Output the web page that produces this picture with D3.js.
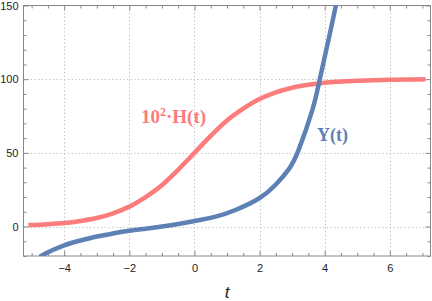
<!DOCTYPE html>
<html><head><meta charset="utf-8">
<script src="https://cdn.jsdelivr.net/npm/d3@7"></script>
<style>body{margin:0;background:#fff}svg{display:block}</style>
</head><body>
<script>
// Data
const hT = [-5.1,-4.5,-4,-3.5,-3,-2.5,-2,-1.5,-1,-0.5,0,0.5,1,1.5,2,2.5,3,3.5,4,4.5,5,5.5,6,6.5,7.1];
const hV = [1.0,1.6,2.4,3.8,5.8,9,13.5,20,28,38.5,50,61.5,72,80,86.5,91,94.2,96.2,97.6,98.5,99,99.3,99.6,99.8,99.9];
const yT = [-4.75,-4.5,-4,-3.5,-3,-2.5,-2,-1.5,-1,-0.5,0,0.65,1.26,1.98,2.5,2.9,3.2,3.62,3.85,4.18,4.4];
const yV = [-20.5,-17.5,-12.8,-9.5,-6.8,-4.7,-2.9,-1.5,0,1.7,3.7,6.7,11.2,19,28.5,39,52,79,100,133,156];
const xTicks = [-4,-2,0,2,4,6];
const yTicks = [0,50,100,150];

const W = 432, H = 301;
const svg = d3.select("body").append("svg").attr("width", W).attr("height", H);
const x = d3.scaleLinear().domain([-5.25, 7.25]).range([23.5, 430.5]);
const y = d3.scaleLinear().domain([-20, 150]).range([256, 5.5]);

svg.append("defs").append("clipPath").attr("id","clip")
  .append("rect").attr("x",23.5).attr("y",5.5).attr("width",407).attr("height",250.5);

// grid
const grid = svg.append("g").attr("stroke","#bbbbbb").attr("stroke-width",1).attr("stroke-dasharray","1.2,2.5");
xTicks.forEach(t=>grid.append("line").attr("x1",Math.round(x(t))+0.5).attr("x2",Math.round(x(t))+0.5).attr("y1",5.5).attr("y2",256));
yTicks.filter(v=>v<150).forEach(v=>grid.append("line").attr("x1",23.5).attr("x2",430.5).attr("y1",Math.round(y(v))+0.5).attr("y2",Math.round(y(v))+0.5));

// frame
svg.append("rect").attr("x",23.5).attr("y",5.5).attr("width",407).attr("height",250.5)
  .attr("fill","none").attr("stroke","#888").attr("stroke-width",1);

// axes via d3
const xMinor = d3.range(-5,7.01,0.5).filter(v=>!xTicks.includes(v));
const yMinor = d3.range(-20,150.1,10).filter(v=>!yTicks.includes(v));
const axStyle = g => { g.select(".domain").remove(); g.selectAll("line").attr("stroke","#888");
  g.selectAll("text").attr("font-family","Liberation Sans, Arial, sans-serif").attr("font-size","11px").attr("fill","#222"); };

svg.append("g").attr("transform","translate(0,256)")
  .call(d3.axisBottom(x).tickValues(xTicks).tickSize(-5).tickPadding(8).tickFormat(d=>d<0?"\u2212"+(-d):d)).call(axStyle);
svg.append("g").attr("transform","translate(0,256)")
  .call(d3.axisBottom(x).tickValues(xMinor).tickSize(-3).tickFormat("")).call(axStyle);
svg.append("g").attr("transform","translate(0,5.5)")
  .call(d3.axisTop(x).tickValues(xTicks).tickSize(-5).tickFormat("")).call(axStyle);
svg.append("g").attr("transform","translate(0,5.5)")
  .call(d3.axisTop(x).tickValues(xMinor).tickSize(-3).tickFormat("")).call(axStyle);
svg.append("g").attr("transform","translate(23.5,0)")
  .call(d3.axisLeft(y).tickValues(yTicks).tickSize(-5).tickPadding(5)).call(axStyle);
svg.append("g").attr("transform","translate(23.5,0)")
  .call(d3.axisLeft(y).tickValues(yMinor).tickSize(-3).tickFormat("")).call(axStyle);
svg.append("g").attr("transform","translate(430.5,0)")
  .call(d3.axisRight(y).tickValues(yTicks).tickSize(-5).tickFormat("")).call(axStyle);
svg.append("g").attr("transform","translate(430.5,0)")
  .call(d3.axisRight(y).tickValues(yMinor).tickSize(-3).tickFormat("")).call(axStyle);

// curves
const lineH = d3.line().x(d=>x(d[0])).y(d=>y(d[1])).curve(d3.curveCatmullRom.alpha(0.5));
const lineY = d3.line().x(d=>x(d[0])).y(d=>y(d[1])).curve(d3.curveNatural);
const plot = svg.append("g").attr("clip-path","url(#clip)");
plot.append("path").datum(hT.map((t,i)=>[t,hV[i]])).attr("d",lineH)
  .attr("fill","none").attr("stroke","#fc7b7b").attr("stroke-width",4.5).attr("stroke-linecap","butt");
plot.append("path").datum(yT.map((t,i)=>[t,yV[i]])).attr("d",lineY)
  .attr("fill","none").attr("stroke","#5e81b5").attr("stroke-width",4.5).attr("stroke-linecap","butt");

// labels
const lh = svg.append("text").attr("x",141).attr("y",123).attr("font-family","Liberation Serif, Times New Roman, serif")
  .attr("font-weight","bold").attr("font-size","19px").attr("fill","#fc7b7b");
lh.append("tspan").text("10");
lh.append("tspan").attr("font-size","12px").attr("dy","-7").text("2");
lh.append("tspan").attr("dy","7").text("·H(t)");
svg.append("text").attr("x",317).attr("y",141).attr("font-family","Liberation Serif, Times New Roman, serif")
  .attr("font-weight","bold").attr("font-size","18px").attr("fill","#5e81b5").text("Y(t)");
svg.append("text").attr("x",227).attr("y",298).attr("text-anchor","middle").attr("font-family","Liberation Sans, Arial, sans-serif")
  .attr("font-style","italic").attr("font-size","17px").attr("fill","#222").text("t");
</script>
</body></html>
